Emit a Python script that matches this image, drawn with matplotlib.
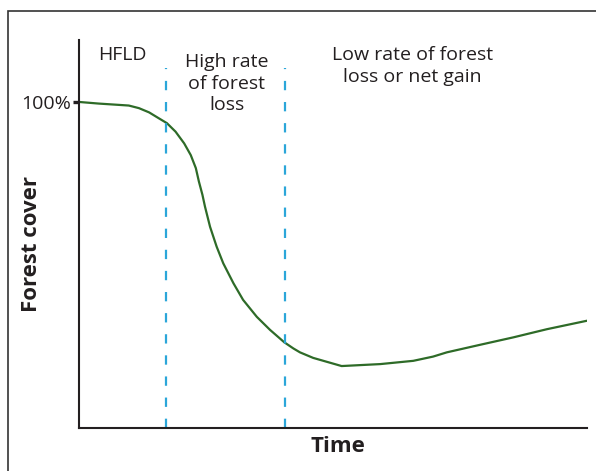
import matplotlib
matplotlib.use("Agg")
from matplotlib import pyplot as plt
from matplotlib.patches import Rectangle
import numpy as np

# Data (time 0-100, forest cover with 100 = 100%)
time = [0, 3.9, 9.8, 11.8, 13.8, 15.7, 17.3, 19.0, 20.7, 22.0, 23.0, 23.6,
        24.3, 24.8, 25.8, 27.1, 28.4, 30.4, 32.3, 35.0, 37.6, 40.4, 42.2,
        43.5, 46.1, 51.7, 59.3, 65.8, 69.7, 72.4, 78.9, 85.5, 92.1, 100]
cover = [100, 99.5, 98.9, 98.1, 96.8, 95.0, 93.5, 90.9, 87.3, 83.7, 79.7, 75.6,
         71.5, 67.9, 61.7, 55.6, 50.5, 44.4, 39.3, 34.1, 30.1, 26.3, 24.4,
         23.2, 21.5, 19.0, 19.6, 20.6, 21.9, 23.2, 25.5, 27.8, 30.3, 32.9]
phase_breaks = [17.1, 40.6]
phase_labels = ["HFLD", "High rate\nof forest\nloss", "Low rate of forest\nloss or net gain"]
phase_label_x = [8.6, 29.1, 65.6]
phase_label_y = [114.4, 105.6, 111.0]

plt.rcParams['font.family'] = ['Open Sans', 'DejaVu Sans']

fig = plt.figure(figsize=(5.96, 4.71), dpi=100)
ax = fig.add_axes([79/596, 1-428/471, 508/596, 388/471])

# outer frame (cut off at right and bottom)
fig.patches.append(Rectangle((8/596, -0.1), 1.2, 1-11/471+0.1, transform=fig.transFigure,
                             fill=False, edgecolor="#333333", linewidth=1.2))

ax.plot(time, cover, color="#2e6b28", linewidth=1.6,
        solid_capstyle="round", solid_joinstyle="round")

for xb in phase_breaks:
    ax.plot([xb, xb], [0, 110.4], color="#2ba6d9", linewidth=1.6,
            linestyle=(0, (4.2, 5.3)))

for lab, lx, ly in zip(phase_labels, phase_label_x, phase_label_y):
    ax.text(lx, ly, lab, ha="center", va="center", fontsize=14,
            color="#231f20", linespacing=1.25)

ax.set_xlim(0, 100)
ax.set_ylim(0, 119)
ax.spines["top"].set_visible(False)
ax.spines["right"].set_visible(False)
for s in ["left", "bottom"]:
    ax.spines[s].set_linewidth(1.5)
    ax.spines[s].set_color("#231f20")

ax.set_xticks([])
ax.set_yticks([100])
ax.set_yticklabels(["100%"], fontsize=14, color="#231f20")
ax.tick_params(axis="y", length=4.5, width=2.4, pad=1.5, color="#231f20")

ax.set_ylabel("Forest cover", fontsize=16, fontweight="bold", color="#231f20")
ax.set_xlabel("Time", fontsize=16, fontweight="bold", color="#231f20")
ax.yaxis.set_label_coords(-0.073, 0.474)
ax.xaxis.set_label_coords(0.51, -0.02)

fig.savefig("out.png", dpi=100)
